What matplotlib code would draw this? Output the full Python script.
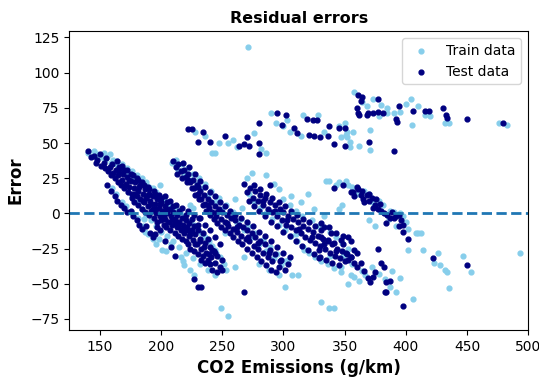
import matplotlib
matplotlib.use("Agg")
import matplotlib.pyplot as plt

# residuals, grouped by cluster (x = CO2, y = error)
train_band_a = [(140, 43), (145, 44), (146, 41), (148, 42), (151, 40), (153, 43), (154, 38), (156, 40),
                (158, 42), (159, 36), (161, 38), (163, 35), (164, 37), (166, 33), (168, 35), (170, 30),
                (172, 32), (174, 28), (176, 30), (178, 26), (180, 27), (182, 24), (184, 25), (186, 21),
                (188, 22), (190, 19), (193, 18), (196, 15), (199, 20), (200, 11), (203, 9), (206, 7),
                (209, 5), (212, 3), (215, 1), (218, -1), (224, 6), (226, 4), (224, -6), (227, -8),
                (230, -11), (233, -14), (236, -17), (239, -20), (242, -23), (245, -28), (248, -31),
                (251, -36), (253, -40), (176, 12), (180, 8), (184, 3), (188, -1), (192, -5), (196, -9),
                (200, -13), (205, -16), (210, -20), (215, -24), (220, -28), (226, -32), (232, -36),
                (238, -40), (244, -44), (242, 43), (186, -4), (198, -18), (208, -22), (218, -34)]
train_band_a2 = [(160, 18), (163, 14), (168, 8), (171, 5), (176, 0), (181, -3), (185, -9), (187, -13),
                 (189, -15), (193, -18), (196, -22), (201, -26), (204, -27), (216, -31), (219, -37),
                 (224, -40), (227, -44), (249, -67), (255, -73)]
train_band_b = [(209, 36), (212, 38), (214, 31), (217, 35), (219, 27), (222, 32), (224, 24), (226, 28),
                (229, 21), (231, 25), (233, 18), (236, 21), (238, 13), (241, 16), (244, 8), (247, 11),
                (250, 3), (253, 6), (256, -2), (259, 1), (260, 10), (266, 4), (262, -7), (265, -4),
                (268, -12), (271, -9), (274, -17), (277, -14), (280, -22), (283, -19), (286, -27),
                (289, -24), (292, -32), (295, -29), (298, -37), (301, -34), (304, -33), (307, -44),
                (301, -52), (312, -44), (252, -14), (268, -31), (260, -38), (244, -26), (288, -40),
                (296, -44), (280, -36)]
train_band_c = [(270, 25), (274, 29), (286, 27), (292, 21), (296, 17), (272, 14), (276, 8), (281, 4),
                (286, 0), (291, -4), (296, -8), (301, -12), (306, -16), (311, -20), (316, -24), (317, -26),
                (321, -28), (326, -31), (331, -34), (336, -36), (341, -39), (320, 14), (300, 10), (305, 6),
                (310, 2), (315, -2), (323, -5), (328, -9), (338, -13), (343, -17), (348, -21), (353, -25),
                (338, -30), (347, -38), (355, -44), (331, -63), (337, -67), (341, -67), (310, -15),
                (306, 12), (314, 8), (325, 3), (333, -2)]
train_band_d = [(335, 23), (337, 23), (343, 20), (345, 22), (351, 23), (353, 20), (356, 19), (360, 14),
                (366, 16), (370, 14), (372, 8), (378, 9), (381, 6), (387, 2), (390, 1), (395, 0),
                (398, -2), (400, -6), (386, -4), (392, -9), (402, -11), (408, -14), (410, -14), (412, -14),
                (375, -9), (370, -5), (348, 6), (345, 3)]
train_cluster_e = [(347, -42), (353, -50), (358, -45), (362, -48), (364, -41), (367, -44), (372, -38),
                   (378, -43), (383, -47), (387, -52), (392, -56), (395, -46), (389, -41), (402, -26),
                   (414, -26), (426, -28), (423, -35), (428, -37), (432, -40), (434, -42), (447, -30),
                   (453, -42), (435, -53), (406, -61), (493, -28), (349, -30), (356, -36)]
train_top = [(228, 58), (236, 55), (244, 43), (247, 50), (255, 50), (259, 52), (262, 47), (276, 57),
             (286, 43), (282, 46), (271, 118),
             (290, 71), (294, 64), (300, 62), (305, 58), (314, 55), (316, 70), (328, 70), (333, 58),
             (345, 62), (350, 64), (347, 54), (352, 58), (303, 66),
             (358, 86), (364, 79), (368, 76), (373, 81), (380, 77), (385, 75), (390, 71), (400, 78),
             (404, 81), (410, 76), (416, 70), (420, 69), (432, 64), (435, 64), (476, 64), (483, 63),
             (378, 69), (385, 71), (395, 72), (405, 63), (351, 56), (352, 54), (354, 51), (354, 47),
             (362, 48), (371, 45), (371, 59), (357, 58)]

test_band_a = [(140, 44), (145, 41), (148, 38), (150, 42), (153, 36), (155, 39), (158, 33), (160, 35),
               (161, 29), (163, 31), (165, 27), (166, 33), (168, 24), (169, 28), (171, 21), (172, 26),
               (174, 19), (175, 23), (176, 14), (178, 18), (179, 22), (180, 12), (181, 16), (183, 10),
               (183, 20), (185, 14), (186, 8), (187, 17), (188, 11), (189, 5), (190, 14), (191, 9),
               (193, 3), (193, 12), (195, 7), (196, 0), (197, 10), (198, 4), (199, -2), (200, 8),
               (201, 2), (203, -4), (203, 5), (205, 0), (206, -6), (207, 3), (208, -2), (209, -8),
               (210, 1), (211, -4), (213, -10), (213, -1), (215, -6), (216, -12), (217, -3), (218, -8),
               (219, -14), (220, -5), (221, -10), (223, -16), (223, -7), (225, -12), (226, -19),
               (227, -9), (228, -15), (229, -22), (230, -12), (232, -18), (233, -25), (234, -14),
               (236, -21), (237, -28), (238, -18), (240, -24), (241, -31), (243, -27), (244, -35),
               (246, -30), (248, -38), (250, -33), (232, -3), (236, -8), (240, -12), (244, -17),
               (248, -22), (234, -30), (240, -36), (244, -28), (250, -40),
               (164, 37), (168, 34), (172, 31), (177, 27), (181, 24), (186, 20), (190, 17), (195, 14),
               (200, 11), (205, 8), (210, 5), (215, 2), (220, -1), (225, -4), (230, -8)]
test_band_a_fill = [(143, 40), (147, 36), (151, 34), (154, 32), (157, 30), (159, 27), (162, 25), (165, 22),
                    (167, 20), (170, 18), (173, 15), (176, 11), (178, 8), (181, 6), (184, 3), (187, 1),
                    (190, -1), (192, 2), (194, -3), (197, -6), (200, -5), (202, -8), (204, -10),
                    (207, -12), (211, -14), (214, -16), (217, -18), (220, -20), (222, -22), (224, -25),
                    (227, -27), (230, -29), (233, -33), (236, -35), (238, -33), (242, -40), (246, -42),
                    (170, 31), (175, 28), (180, 25), (184, 22), (189, 19), (194, 16), (198, 13),
                    (203, 12), (207, 9), (212, 6), (217, 4), (222, 2), (227, -1), (231, -3), (166, 30),
                    (174, 24), (182, 19), (192, 7), (202, -1), (212, -7), (222, -12), (232, -20),
                    (242, -26), (179, 14), (185, 9), (189, 13), (195, 3), (199, 7), (204, 3),
                    (209, -5), (214, -9), (218, -11), (224, -15), (228, -22), (235, -24), (239, -29)]
test_band_a2 = [(156, 20), (159, 16), (162, 12), (164, 9), (167, 6), (170, 4), (172, 1), (175, 2),
                (177, -2), (180, -5), (182, -8), (184, -11), (188, -9), (191, -14), (193, -17),
                (195, -15), (197, -10), (199, -12), (203, -20), (208, -24), (211, -30), (227, -47),
                (230, -52), (233, -52), (268, -56)]
test_band_b = [(210, 37), (212, 33), (214, 35), (216, 30), (219, 31), (220, 26), (222, 28), (224, 22),
               (226, 24), (227, 18), (229, 20), (230, 14), (232, 16), (233, 10), (235, 13), (236, 7),
               (238, 10), (239, 4), (241, 8), (242, 1), (244, 5), (245, -2), (247, 3), (249, -4),
               (250, 1), (252, -6), (254, -1), (255, -9), (257, -3), (259, -11), (260, -5), (262, -13),
               (264, -8), (265, -16), (267, -10), (269, -18), (270, -12), (272, -20), (274, -14),
               (276, -23), (277, -17), (279, -25), (281, -20), (283, -28), (285, -22), (287, -31),
               (289, -26), (291, -34), (293, -29), (296, -38), (298, -33), (301, -40), (304, -36)]
test_band_b_fill = [(213, 28), (217, 25), (221, 22), (225, 18), (228, 13), (231, 10), (234, 6), (237, 2),
                    (240, -1), (243, -4), (246, -7), (249, -10), (252, -12), (256, -14), (259, -17),
                    (263, -20), (266, -22), (270, -25), (274, -28), (278, -31), (282, -34), (286, -37),
                    (290, -40), (294, -42), (218, 36), (223, 33), (228, 28), (232, 23), (236, 19),
                    (240, 15), (244, 12), (248, 8), (252, 5), (256, 2), (260, -1), (265, -3), (270, -6),
                    (275, -9), (280, -13), (285, -16), (290, -20), (295, -24), (300, -28), (305, -31),
                    (222, 24), (230, 19), (238, 6), (246, 1), (254, -7), (262, -10), (271, -17),
                    (279, -21), (288, -28), (297, -34)]
test_band_c = [(268, 21), (270, 15), (273, 18), (275, 11), (277, 16), (279, 9), (281, 13), (283, 6),
               (285, 11), (287, 3), (289, 20), (289, 8), (291, 1), (293, 6), (295, -2), (297, 3),
               (299, -5), (300, 1), (302, -8), (304, -2), (306, -10), (308, -4), (310, -12), (312, -6),
               (314, -14), (316, -9), (318, -17), (320, -11), (322, -19), (324, -13), (326, -21),
               (328, -16), (329, -26), (330, -23), (332, -18), (334, -25), (336, -20), (338, -28),
               (340, -22), (342, -30), (344, -25), (346, -32), (348, -27), (350, -34), (352, -29),
               (355, -31), (358, -35), (360, -28), (329, -32), (331, -7), (333, -10), (331, -17),
               (336, -19), (339, -14), (341, -21), (347, -19), (349, -22), (353, -17), (351, -28),
               (355, -31), (353, -33), (358, -26)]
test_band_c_fill = [(272, 9), (276, 5), (280, 2), (285, -2), (290, -6), (295, -9), (300, -13), (305, -16),
                    (310, -20), (315, -23), (320, -26), (325, -29), (330, -31), (335, -33), (340, -35),
                    (345, -37), (276, 20), (281, 17), (286, 14), (291, 11), (296, 8), (301, 5), (306, 2),
                    (311, -1), (316, -4), (321, -6), (326, -9), (331, -12), (337, -10), (343, -14),
                    (349, -16), (355, -20), (283, 9), (293, 2), (303, -5), (313, -11), (323, -17),
                    (333, -22), (343, -27)]
test_band_d = [(341, 18), (349, 20), (355, 15), (357, 15), (358, 12), (361, 17), (363, 13), (365, 10),
               (366, 8), (368, 13), (370, 9), (372, 11), (373, 4), (375, 6), (377, 3), (380, 2),
               (382, 0), (384, -7), (385, -1), (387, -3), (390, -3), (392, -2), (394, -9), (396, -5),
               (398, -8), (402, -18), (398, -13), (360, 19), (364, 16), (370, 14), (376, 10),
               (379, 7), (389, 1), (394, -1)]
test_cluster_e = [(363, -35), (377, -25), (380, -35), (382, -38), (375, -42), (373, -45), (369, -46),
                  (371, -49), (384, -49), (387, -48), (384, -56), (383, -56), (360, -38), (398, -66),
                  (422, -32), (450, -37), (366, -41)]
test_top = [(225, 60), (222, 60), (234, 58), (230, 51), (240, 51), (252, 55), (264, 48), (268, 49),
            (272, 48), (270, 54), (280, 50), (280, 64), (280, 42),
            (295, 71), (302, 70), (299, 63), (309, 61), (311, 57), (319, 67), (324, 66), (327, 66),
            (337, 62), (345, 61), (321, 56), (325, 55), (330, 54), (336, 55), (341, 49), (350, 48),
            (350, 61),
            (361, 84), (364, 83), (363, 80), (377, 81), (394, 76), (406, 73), (419, 73), (416, 73),
            (430, 75), (433, 70), (434, 68), (450, 67), (479, 64), (360, 75), (361, 71), (362, 70),
            (368, 70), (369, 71), (373, 71), (377, 72), (381, 71), (392, 67), (393, 65), (370, 51),
            (390, 44)]

train = train_band_a + train_band_a2 + train_band_b + train_band_c + train_band_d + train_cluster_e + train_top
test = (test_band_a + test_band_a_fill + test_band_a2 + test_band_b + test_band_b_fill + test_band_c
        + test_band_c_fill + test_band_d + test_cluster_e + test_top)

fig = plt.figure(figsize=(5.39, 3.8), dpi=100)
ax = fig.add_axes([0.1286, 0.132, 0.8514, 0.786])

ax.scatter([p[0] for p in train], [p[1] for p in train], color="skyblue", s=12, label="Train data")
ax.scatter([p[0] for p in test], [p[1] for p in test], color="navy", s=12, label="Test data")
ax.axhline(0, linestyle="--", linewidth=2, color="#1f77b4")

ax.set_xlim(125, 500)
ax.set_ylim(-82.8, 129.5)
ax.set_title("Residual errors", fontweight="bold", fontsize=11.5)
ax.set_xlabel("CO2 Emissions (g/km)", fontweight="bold", fontsize=12)
ax.set_ylabel("Error", fontweight="bold", fontsize=12)
ax.legend(loc="upper right")

plt.savefig("out.png", dpi=100)
